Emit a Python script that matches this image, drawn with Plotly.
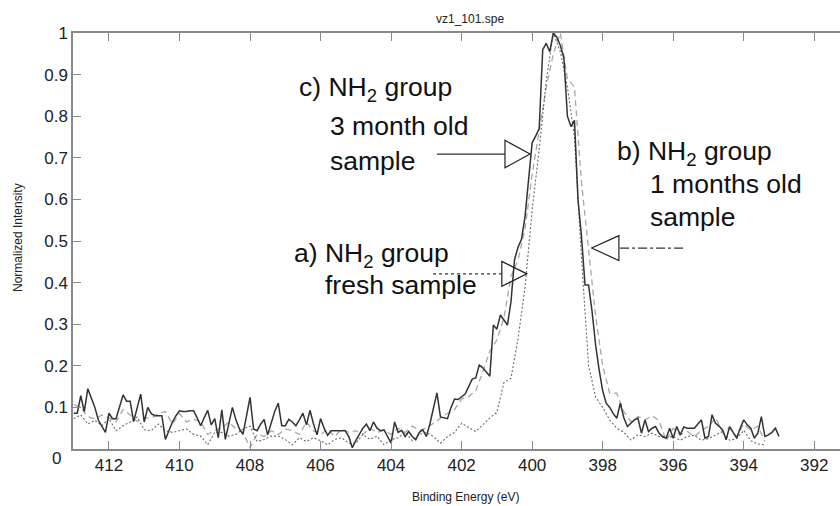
import numpy as np
import plotly.graph_objects as go

# ---------------- data ----------------
# c) 3 month old sample, sampled every 0.1 eV starting at 413.0 eV
c_start, c_step = 413.0, 0.1
c_3month = [
    0.086, 0.086, 0.128, 0.090, 0.145, 0.120, 0.100, 0.069, 0.055, 0.040,  # 413.0-412.1
    0.086, 0.073, 0.073, 0.100, 0.130, 0.115, 0.115, 0.066, 0.100, 0.132,  # 412.0-411.1
    0.065, 0.100, 0.085, 0.080, 0.080, 0.080, 0.023, 0.045, 0.065, 0.080,  # 411.0-410.1
    0.092, 0.090, 0.090, 0.092, 0.092, 0.075, 0.056, 0.075, 0.093, 0.058,  # 410.0-409.1
    0.073, 0.027, 0.094, 0.023, 0.060, 0.100, 0.070, 0.048, 0.035, 0.080,  # 409.0-408.1
    0.124, 0.048, 0.044, 0.060, 0.071, 0.034, 0.060, 0.090, 0.110, 0.056,  # 408.0-407.1
    0.056, 0.071, 0.065, 0.056, 0.070, 0.086, 0.058, 0.093, 0.060, 0.034,  # 407.0-406.1
    0.073, 0.050, 0.033, 0.044, 0.044, 0.044, 0.044, 0.044, 0.030, 0.003,  # 406.0-405.1
    0.020, 0.035, 0.050, 0.060, 0.044, 0.065, 0.050, 0.044, 0.046, 0.030,  # 405.0-404.1
    0.014, 0.065, 0.040, 0.045, 0.030, 0.042, 0.030, 0.022, 0.040, 0.046,  # 404.0-403.1
    0.030, 0.060, 0.100, 0.135, 0.077, 0.075, 0.073, 0.100, 0.120, 0.119,  # 403.0-402.1
    0.125, 0.132, 0.150, 0.168, 0.171, 0.202, 0.195, 0.185, 0.175, 0.298,  # 402.0-401.1
    0.288, 0.322, 0.310, 0.298, 0.354, 0.455, 0.485, 0.505, 0.560, 0.650,  # 401.0-400.1
    0.736, 0.752, 0.770, 0.960, 0.975, 0.955, 1.000, 0.990, 0.970, 0.940,  # 400.0-399.1
    0.800, 0.775, 0.790, 0.600, 0.510, 0.394, 0.394, 0.330, 0.250, 0.190,  # 399.0-398.1
    0.140, 0.110, 0.100, 0.085, 0.074, 0.110, 0.075, 0.054, 0.062, 0.070,  # 398.0-397.1
    0.074, 0.038, 0.070, 0.042, 0.050, 0.054, 0.038, 0.030, 0.026, 0.050,  # 397.0-396.1
    0.026, 0.054, 0.034, 0.053, 0.050, 0.050, 0.050, 0.060, 0.070, 0.026,  # 396.0-395.1
    0.030, 0.082, 0.062, 0.055, 0.046, 0.022, 0.054, 0.040, 0.026, 0.050,  # 395.0-394.1
    0.070, 0.058, 0.050, 0.026, 0.038, 0.078, 0.030, 0.034, 0.040, 0.050,  # 394.0-393.1
    0.030,                                                                  # 393.0
]

# a) fresh sample and b) 1 month old sample, sampled every 0.2 eV from 413.0 eV
ab_start, ab_step = 413.0, 0.2
a_fresh = [
    0.073, 0.082, 0.060, 0.069, 0.056,  # 413.0-412.2
    0.073, 0.044, 0.056, 0.065, 0.077,  # 412.0-411.2
    0.046, 0.044, 0.060, 0.044, 0.040,  # 411.0-410.2
    0.044, 0.048, 0.035, 0.031, 0.010,  # 410.0-409.2
    0.040, 0.040, 0.031, 0.035, 0.048,  # 409.0-408.2
    0.055, 0.018, 0.023, 0.031, 0.031,  # 408.0-407.2
    0.023, 0.010, 0.027, 0.018, 0.027,  # 407.0-406.2
    0.020, 0.010, 0.023, 0.027, 0.014,  # 406.0-405.2
    0.014, 0.035, 0.023, 0.031, 0.010,  # 405.0-404.2
    0.023, 0.027, 0.040, 0.020, 0.035,  # 404.0-403.2
    0.040, 0.030, 0.014, 0.030, 0.040,  # 403.0-402.2
    0.062, 0.052, 0.042, 0.058, 0.075,  # 402.0-401.2
    0.088, 0.160, 0.170, 0.265, 0.390,  # 401.0-400.2
    0.575, 0.720, 0.885, 1.000, 0.955,  # 400.0-399.2
    0.870, 0.750, 0.460, 0.200, 0.125,  # 399.0-398.2
    0.100, 0.070, 0.050, 0.040, 0.022,  # 398.0-397.2
    0.034, 0.030, 0.038, 0.030, 0.028,  # 397.0-396.2
    0.030, 0.021, 0.030, 0.033, 0.021,  # 396.0-395.2
    0.025, 0.033, 0.042, 0.021, 0.025,  # 395.0-394.2
    0.045, 0.020, 0.012, 0.010,         # 394.0-393.4
]
b_1month = [
    0.107, 0.100, 0.078, 0.072, 0.082,  # 413.0-412.2
    0.075, 0.065, 0.095, 0.082, 0.066,  # 412.0-411.2
    0.075, 0.074, 0.085, 0.090, 0.060,  # 411.0-410.2
    0.085, 0.065, 0.072, 0.065, 0.035,  # 410.0-409.2
    0.045, 0.050, 0.065, 0.048, 0.040,  # 409.0-408.2
    0.003, 0.035, 0.030, 0.044, 0.035,  # 408.0-407.2
    0.048, 0.044, 0.035, 0.065, 0.044,  # 407.0-406.2
    0.035, 0.048, 0.030, 0.048, 0.040,  # 406.0-405.2
    0.044, 0.035, 0.050, 0.040, 0.045,  # 405.0-404.2
    0.035, 0.050, 0.040, 0.055, 0.045,  # 404.0-403.2
    0.050, 0.062, 0.075, 0.086, 0.095,  # 403.0-402.2
    0.120, 0.126, 0.140, 0.185, 0.235,  # 402.0-401.2
    0.262, 0.315, 0.415, 0.455, 0.530,  # 401.0-400.2
    0.660, 0.765, 0.870, 0.950, 1.000,  # 400.0-399.2
    0.890, 0.870, 0.640, 0.480, 0.320,  # 399.0-398.2
    0.200, 0.134, 0.134, 0.090, 0.066,  # 398.0-397.2
    0.078, 0.070, 0.080, 0.068, 0.020,  # 397.0-396.2
    0.050, 0.034, 0.042, 0.030, 0.045,  # 396.0-395.2
    0.054, 0.075, 0.040, 0.050, 0.030,  # 395.0-394.2
    0.060, 0.045, 0.055, 0.018,         # 394.0-393.4
]

x_tick_vals = [412, 410, 408, 406, 404, 402, 400, 398, 396, 394, 392]
x_tick_text = ["412", "410", "408", "406", "404", "402", "400", "398", "396", "394", "392"]
y_tick_vals = [0.1, 0.2, 0.3, 0.4, 0.5, 0.6, 0.7, 0.8, 0.9, 1.0]
y_tick_text = ["0.1", "0.2", "0.3", "0.4", "0.5", "0.6", "0.7", "0.8", "0.9", "1"]
y_zero_label = "0"

title_text = "vz1_101.spe"
x_title = "Binding Energy (eV)"
y_title = "Normalized Intensity"

# label arrows: (tail energy, triangle base energy, tip energy, intensity, half-height)
arrow_c = (402.70, 400.77, 400.06, 0.709, 0.033)
arrow_b = (395.72, 397.54, 398.31, 0.483, 0.030)
arrow_a = (402.81, 400.86, 400.15, 0.421, 0.030)

# ---------------- figure ----------------
energy_c = np.round(c_start - c_step * np.arange(len(c_3month)), 2)
energy_ab = np.round(ab_start - ab_step * np.arange(len(a_fresh)), 2)

FONT = "Liberation Sans, Arial, sans-serif"
W, H = 840, 506
L, R, T, B = 73, 0, 33, 57
PW, PH = W - L - R, H - T - B


def px(xp):
    return (xp - L) / PW


def py(yp):
    return (H - B - yp) / PH


fig = go.Figure()
fig.add_trace(go.Scatter(x=energy_ab, y=b_1month, mode="lines", name="b",
                         line=dict(color="#a8a8a8", width=1.3, dash="6px,4px")))
fig.add_trace(go.Scatter(x=energy_ab, y=a_fresh, mode="lines", name="a",
                         line=dict(color="#6a6a6a", width=1.1, dash="2px,2px")))
fig.add_trace(go.Scatter(x=energy_c, y=c_3month, mode="lines", name="c",
                         line=dict(color="#333333", width=1.5)))

shapes = []


def add_arrow(spec, dash):
    tail, base, tip, yv, hh = spec
    shapes.append(dict(type="line", xref="x", yref="y", x0=tail, x1=base, y0=yv, y1=yv,
                       line=dict(color="#333333", width=1.2, dash=dash)))
    shapes.append(dict(type="path", xref="x", yref="y",
                       path=f"M {base},{yv + hh} L {tip},{yv} L {base},{yv - hh} Z",
                       line=dict(color="#222222", width=1.2), fillcolor="rgba(255,255,255,0)"))


add_arrow(arrow_c, "solid")
add_arrow(arrow_b, "dashdot")
add_arrow(arrow_a, "dot")

LBL = dict(family=FONT, size=26.5, color="#111111")
labels = [
    ("c) NH<sub>2</sub> group", 297, 89),
    ("3 month old", 328, 126),
    ("sample", 328, 161),
    ("b) NH<sub>2</sub> group", 615, 153),
    ("1 months old", 648, 184),
    ("sample", 648, 217),
    ("a) NH<sub>2</sub> group", 292, 255),
    ("fresh sample", 323, 285),
]
annotations = []
for txt, xp, yp in labels:
    annotations.append(dict(text=txt, xref="paper", yref="paper", x=px(xp), y=py(yp),
                            xanchor="left", yanchor="middle", showarrow=False, font=LBL))

annotations.append(dict(text=y_zero_label, xref="paper", yref="paper", x=px(63), y=py(459),
                        xanchor="right", yanchor="middle", showarrow=False,
                        font=dict(family=FONT, size=17, color="#222222")))
annotations.append(dict(text=x_title, xref="paper", yref="paper", x=px(465), y=py(497),
                        xanchor="center", yanchor="middle", showarrow=False,
                        font=dict(family=FONT, size=12, color="#222222")))
annotations.append(dict(text=y_title, xref="paper", yref="paper", x=px(18), y=py(238),
                        xanchor="center", yanchor="middle", showarrow=False, textangle=-90,
                        font=dict(family=FONT, size=12, color="#222222")))
annotations.append(dict(text=title_text, xref="paper", yref="paper", x=px(470), y=py(19),
                        xanchor="center", yanchor="middle", showarrow=False,
                        font=dict(family=FONT, size=12, color="#222222")))

fig.update_layout(
    width=W, height=H,
    margin=dict(l=L, r=R, t=T, b=B, pad=0),
    paper_bgcolor="white", plot_bgcolor="white",
    showlegend=False,
    shapes=shapes,
    annotations=annotations,
    xaxis=dict(range=[413.02, 391.27], tickvals=x_tick_vals, ticktext=x_tick_text,
               ticks="inside", ticklen=8, tickwidth=1.2, tickcolor="#8a8a8a",
               showline=True, linecolor="#8a8a8a", linewidth=1.5, mirror="ticks",
               showgrid=False, zeroline=False,
               tickfont=dict(family=FONT, size=17, color="#222222")),
    yaxis=dict(range=[0, 1], tickvals=y_tick_vals, ticktext=y_tick_text,
               ticks="inside", ticklen=8, tickwidth=1.2, tickcolor="#8a8a8a",
               showline=True, linecolor="#8a8a8a", linewidth=1.5,
               showgrid=False, zeroline=False,
               tickfont=dict(family=FONT, size=17, color="#222222")),
)

fig.write_html(
    "out.html",
    config={"displayModeBar": False},
    post_script="document.body.style.margin='0';document.body.style.padding='0';"
                "document.body.style.overflow='hidden';",
)
